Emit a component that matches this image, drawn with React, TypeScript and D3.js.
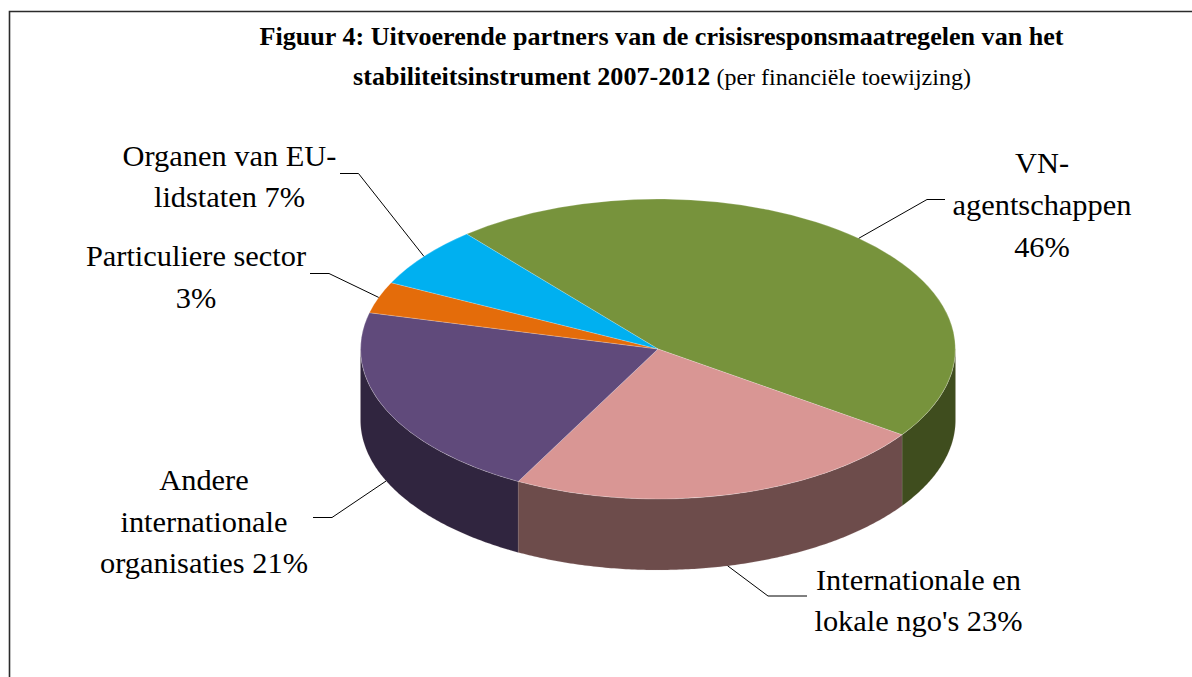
import React from 'react';
import * as d3 from 'd3';

const categories = ['VN-agentschappen', "Internationale en lokale ngo's", 'Andere internationale organisaties', 'Particuliere sector', 'Organen van EU-lidstaten'];
// labels round these to 46, 23, 21, 3 and 7; slice widths
const shares = [45.8, 23.1, 21.1, 3.4, 6.6];
const topColors = ['#77933C', '#D99694', '#604A7B', '#E46C0A', '#00B0F0'];
const wallColors = ['#3F4D1E', '#6D4C4B', '#30253F', '#7A3A06', '#005E80'];
const titleLine1 = 'Figuur 4: Uitvoerende partners van de crisisresponsmaatregelen van het';
const titleLine2 = 'stabiliteitsinstrument 2007-2012';
const titleSuffix = ' (per financiële toewijzing)';

const labelLines = [
  ['VN-', 'agentschappen', '46%'],
  ['Internationale en', "lokale ngo's 23%"],
  ['Andere', 'internationale', 'organisaties 21%'],
  ['Particuliere sector', '3%'],
  ['Organen van EU-', 'lidstaten 7%'],
];
// label centre x, first baseline, line height
const labelPos = [
  [1042, 172.5, 42],
  [918.5, 590, 41],
  [204, 490, 41.5],
  [196, 266, 41.5],
  [229.5, 165.5, 41.5],
];
// where the leader leaves the label: outer end and elbow
const leaderEnds = [
  [[945, 199.5], [927, 199.5]],
  [[807, 596], [768, 596]],
  [[313, 517.5], [332, 517.5]],
  [[310, 273.5], [329, 273.5]],
  [[340, 173.5], [358.5, 173.5]],
];

const cx = 658;
const cy = 349;
const rx = 297.5;
const ry = 150;
const depth = 71;
const startDeg = -40;

const rad = (d: number) => (d * Math.PI) / 180;

const App = () => {
  const pie = d3.pie<number>().sort(null).startAngle(rad(startDeg)).endAngle(rad(startDeg + 360));
  const slices = pie(shares);

  // pie angles run clockwise from 12 o'clock, the tilt is just a squashed circle
  const px = (a: number) => cx + rx * Math.sin(a);
  const py = (a: number) => cy - ry * Math.cos(a);

  const arc = d3.arc<d3.PieArcDatum<number>>().innerRadius(0).outerRadius(1);

  const wallPath = (s: d3.PieArcDatum<number>) => {
    // only the front half of the rim is visible
    const candidates = [[s.startAngle, s.endAngle], [s.startAngle + 2 * Math.PI, s.endAngle + 2 * Math.PI]];
    for (const [a0, a1] of candidates) {
      const from = Math.max(a0, Math.PI / 2);
      const to = Math.min(a1, (3 * Math.PI) / 2);
      if (to > from) {
        const steps = d3.range(from, to, 0.01).concat(to);
        const top = steps.map((a) => [px(a), py(a)] as [number, number]);
        const bottom = steps.slice().reverse().map((a) => [px(a), py(a) + depth] as [number, number]);
        return d3.line()(top.concat(bottom)) + 'Z';
      }
    }
    return null;
  };

  const anchor = (s: d3.PieArcDatum<number>) => {
    const mid = (s.startAngle + s.endAngle) / 2;
    const onFront = Math.cos(mid) < 0;
    return [px(mid), py(mid) + (onFront ? depth : 0)] as [number, number];
  };

  const font = '"Liberation Serif", "Times New Roman", serif';

  return (
    <svg
      width={1192}
      height={677}
      style={{ position: 'absolute', left: 0, top: 0, background: '#fff' }}
      fontFamily={font}
      role="img"
      aria-label={categories.join(', ')}
    >
      <path d="M9.5,677V11.5H1192" fill="none" stroke="#2b2b2b" strokeWidth={1.6} />

      <text x={661.5} y={45} textAnchor="middle" fontSize={26.1} fontWeight="bold" fill="#000">{titleLine1}</text>
      <text x={662} y={85} textAnchor="middle" fontSize={26.1} fill="#000">
        <tspan fontWeight="bold">{titleLine2}</tspan>
        <tspan fontSize={24}>{titleSuffix}</tspan>
      </text>

      {slices.map((s, i) => {
        const d = wallPath(s);
        return d ? <path key={i} d={d} fill={wallColors[i]} stroke="#b9a9a9" strokeOpacity={0.25} strokeWidth={0.6} /> : null;
      })}
      {slices.map((s, i) => (
        <path
          key={i}
          d={arc(s) as string}
          transform={`translate(${cx},${cy}) scale(${rx},${ry})`}
          fill={topColors[i]}
          stroke="#fff"
          strokeOpacity={0.3}
          strokeWidth={0.7}
          vectorEffect="non-scaling-stroke"
        />
      ))}

      {slices.map((s, i) => (
        <path
          key={i}
          d={d3.line()([leaderEnds[i][0] as [number, number], leaderEnds[i][1] as [number, number], anchor(s)]) as string}
          fill="none"
          stroke="#000"
          strokeWidth={1}
        />
      ))}

      {labelLines.map((lines, i) => (
        <text key={i} textAnchor="middle" fontSize={30.4} fill="#000">
          {lines.map((t, j) => (
            <tspan key={j} x={labelPos[i][0]} y={labelPos[i][1] + j * labelPos[i][2]}>{t}</tspan>
          ))}
        </text>
      ))}
    </svg>
  );
};

export default App;
